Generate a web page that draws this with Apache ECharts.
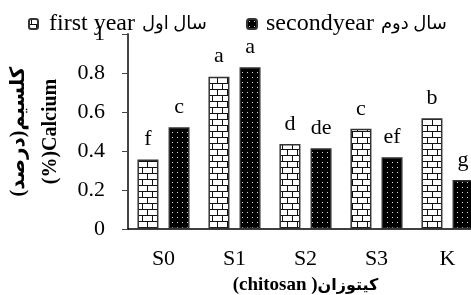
<!DOCTYPE html>
<html><head><meta charset="utf-8">
<script src="https://cdn.jsdelivr.net/npm/echarts@6/dist/echarts.min.js"></script>
<style>html,body{margin:0;padding:0;background:#fff}#c{width:471px;height:295px}</style>
</head><body><div id="c"></div>
<script>
const categories = ['S0', 'S1', 'S2', 'S3', 'K'];
const firstYear = [0.357, 0.781, 0.436, 0.514, 0.568];
const secondYear = [0.522, 0.829, 0.414, 0.368, 0.251];
const lettersFirst = ['f', 'a', 'd', 'c', 'b'];
const lettersSecond = ['c', 'a', 'de', 'ef', 'g'];
const seriesLatin = ['first year', 'secondyear'];
const seriesPersian = ['سال اول', 'سال دوم'];
const seriesNames = ['first year سال اول', 'secondyear سال دوم'];
const yTicks = { min: 0, max: 1, interval: 0.2 };

function brick() {
  const c = document.createElement('canvas'); c.width = 10; c.height = 12;
  const g = c.getContext('2d');
  g.fillStyle = '#fff'; g.fillRect(0, 0, 10, 12);
  g.fillStyle = '#111';
  g.fillRect(0, 5, 10, 1); g.fillRect(0, 11, 10, 1);
  g.fillRect(2, 0, 1, 5); g.fillRect(7, 6, 1, 5);
  return c;
}
function dots() {
  const c = document.createElement('canvas'); c.width = 5; c.height = 5;
  const g = c.getContext('2d');
  g.fillStyle = '#000'; g.fillRect(0, 0, 5, 5);
  g.fillStyle = '#ddd'; g.fillRect(2, 2, 1, 1);
  return c;
}
const FF = '"Liberation Serif", "DejaVu Sans", serif';
const chart = echarts.init(document.getElementById('c'), null, { renderer: 'canvas' });
const lab = (letters) => ({
  show: true, position: 'top', distance: 9, color: '#000', fontSize: 22, fontFamily: FF,
  formatter: p => letters[p.dataIndex]
});
const legendRich = {
  l: { fontSize: 24, color: '#000', fontFamily: FF },
  a: { fontSize: 18, color: '#000', fontFamily: FF, padding: [0, 0, 0, 7] }
};
const legendFmt = name => {
  const i = seriesNames.indexOf(name);
  return '{l|' + seriesLatin[i] + '}{a|' + seriesPersian[i] + '}';
};
chart.setOption({
  animation: false,
  textStyle: { fontFamily: FF },
  grid: { left: 128, top: 34, bottom: 66, right: -12, containLabel: false, outerBoundsMode: 'none' },
  legend: [
    { data: [seriesNames[0]], left: 28, top: 12, padding: 0, itemWidth: 9, itemHeight: 10,
      formatter: legendFmt,
      textStyle: { fontSize: 24, color: '#000', fontFamily: FF, padding: [0, 0, 0, 6], rich: legendRich } },
    { data: [seriesNames[1]], left: 246, top: 12, padding: 0, itemWidth: 10, itemHeight: 10,
      formatter: legendFmt,
      textStyle: { fontSize: 24, color: '#000', fontFamily: FF, padding: [0, 0, 0, 4], rich: legendRich } }
  ],
  xAxis: {
    type: 'category', data: categories,
    axisLine: { lineStyle: { color: '#000', width: 1.5 } },
    axisTick: { show: false },
    axisLabel: { color: '#000', fontSize: 22, fontFamily: FF, margin: 19 },
    name: '{l|(chitosan )}{a|کیتوزان}', nameLocation: 'middle', nameGap: 47,
    nameTextStyle: { color: '#000', fontSize: 19, fontWeight: 'bold', fontFamily: FF,
      rich: { l: { fontSize: 19, fontWeight: 'bold', fontFamily: FF, color: '#000' },
              a: { fontSize: 16, fontWeight: 'bold', fontFamily: FF, color: '#000' } } }
  },
  yAxis: {
    type: 'value', min: yTicks.min, max: yTicks.max, interval: yTicks.interval,
    axisLine: { show: true, lineStyle: { color: '#444', width: 2 } },
    axisTick: { show: true, length: 6, lineStyle: { color: '#444' } },
    splitLine: { show: false },
    axisLabel: { color: '#000', fontSize: 22, fontFamily: FF, margin: 23 },
    name: 'کلسیم(درصد)\n(%)Calcium', nameLocation: 'middle', nameRotate: 90, nameGap: 56,
    nameTextStyle: { color: '#000', fontSize: 20, fontWeight: 'bold', fontFamily: FF, lineHeight: 32 }
  },
  series: [
    { name: seriesNames[0], type: 'bar', data: firstYear, barWidth: 21, barGap: '48%',
      itemStyle: { color: { image: brick(), repeat: 'repeat' }, borderColor: '#333', borderWidth: 1.5 },
      label: lab(lettersFirst) },
    { name: seriesNames[1], type: 'bar', data: secondYear, barWidth: 21,
      itemStyle: { color: { image: dots(), repeat: 'repeat' }, borderColor: '#333', borderWidth: 1.5 },
      label: lab(lettersSecond) }
  ]
});
</script></body></html>
